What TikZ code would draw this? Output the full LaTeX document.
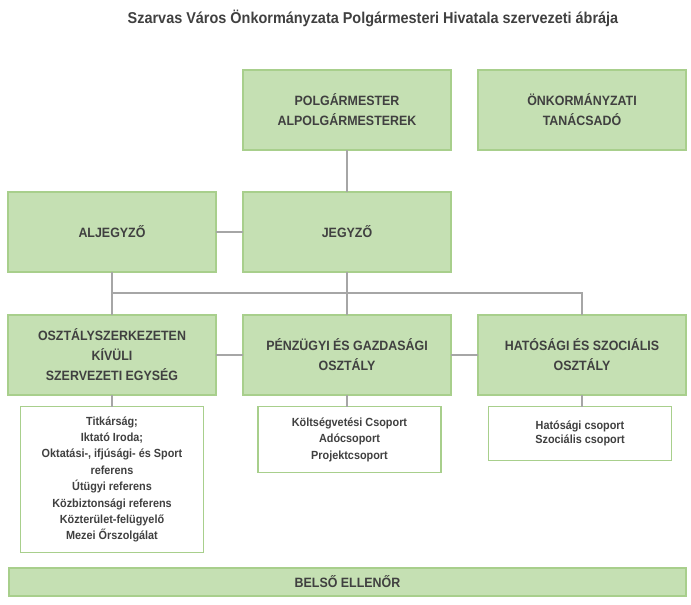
\documentclass[tikz,border=0pt]{standalone}
\usepackage{fontspec}
\setmainfont{Liberation Sans}[FakeStretch=0.92]
\definecolor{boxfill}{HTML}{C5E0B3}
\definecolor{boxline}{HTML}{A8CF8C}
\definecolor{linegray}{HTML}{A6A6A6}
\definecolor{txt}{HTML}{404040}
\begin{document}
\begin{tikzpicture}[x=1pt,y=-1pt,line cap=rect,
  box/.style={draw=boxline,fill=boxfill,line width=1.6pt,minimum width=208,minimum height=80,
    align=center,text=txt,font=\bfseries\fontsize{13.5}{20}\selectfont},
  subbox/.style={draw=boxline,fill=white,line width=1.6pt,minimum width=183,inner sep=4pt,
    align=center,text=txt,font=\bfseries\fontsize{11.8}{16.4}\selectfont},
  conn/.style={draw=linegray,line width=1.6pt}]
\useasboundingbox (0,0) rectangle (691,605);
\node [text=txt,font=\bfseries\fontsize{15.7}{18}\selectfont] (title) at (373,18)
  {Szarvas Város Önkormányzata Polgármesteri Hivatala szervezeti ábrája};
% top row
\node [box] (polg) at (347,110) {POLGÁRMESTER\\ALPOLGÁRMESTEREK};
\node [box] (tanacs) at (582,110) {ÖNKORMÁNYZATI\\TANÁCSADÓ};
% second row
\node [box] (aljegy) at (112,232) {ALJEGYZŐ};
\node [box] (jegy) at (347,232) {JEGYZŐ};
% third row
\node [box] (oszt) at (112,355) {OSZTÁLYSZERKEZETEN\\KÍVÜLI\\SZERVEZETI EGYSÉG};
\node [box] (penz) at (347,355) {PÉNZÜGYI ÉS GAZDASÁGI\\OSZTÁLY};
\node [box] (hat) at (582,355) {HATÓSÁGI ÉS SZOCIÁLIS\\OSZTÁLY};
% groups
\node [subbox,minimum height=146] (titk) at (112,479.5)
  {Titkárság;\\Iktató Iroda;\\Oktatási-, ifjúsági- és Sport\\referens\\Útügyi referens\\
   Közbiztonsági referens\\Közterület-felügyelő\\Mezei Őrszolgálat};
\node [subbox,minimum height=66] (kolts) at (349.5,439.5)
  {Költségvetési Csoport\\Adócsoport\\Projektcsoport};
\node [subbox,minimum height=54,font=\bfseries\fontsize{11.8}{14.5}\selectfont] (hatcs) at (580,433.5)
  {Hatósági csoport\\Szociális csoport};
\node [box,minimum width=677,minimum height=28] (belso) at (347.5,582) {BELSŐ ELLENŐR};
% connectors
\coordinate (bus) at (0,293);
\draw [conn] (polg) -- (jegy);
\draw [conn] (aljegy) -- (jegy);
\draw [conn] (aljegy) -- (oszt);
\draw [conn] (jegy) -- (penz);
\draw [conn] (oszt.north |- bus) -- (hat.north |- bus) -- (hat.north);
\draw [conn] (oszt) -- (penz) -- (hat);
\draw [conn] (oszt) -- (titk);
\draw [conn] (penz.south) -- (penz.south |- kolts.north);
\draw [conn] (hat.south) -- (hat.south |- hatcs.north);
\end{tikzpicture}
\end{document}
